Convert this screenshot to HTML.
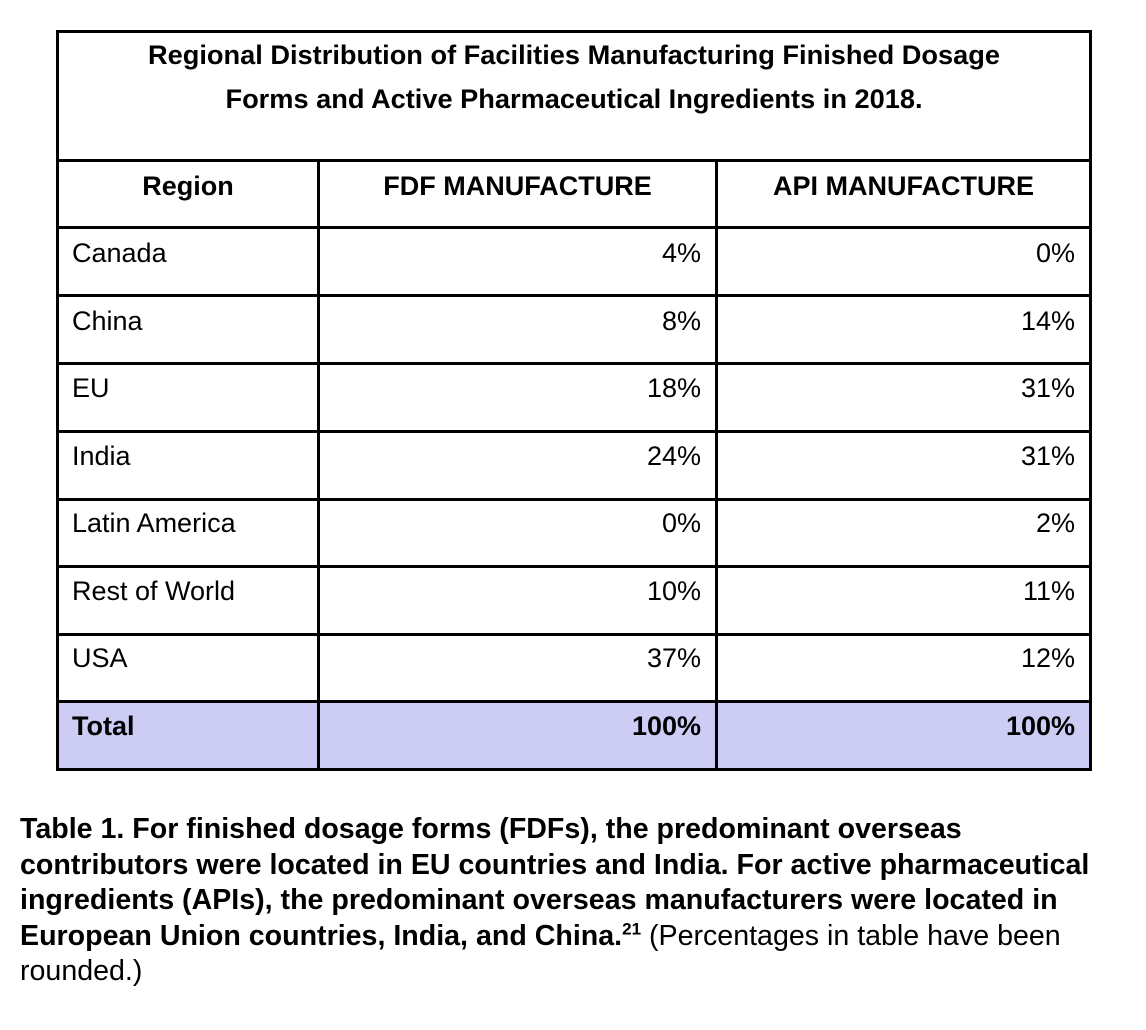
<!DOCTYPE html><html><head><style>
body{margin:0;width:1146px;height:1030px;background:#fff;font-family:"Liberation Sans",sans-serif;color:#000;position:relative;overflow:hidden}
.h{position:absolute;background:#000;height:3px}
.v{position:absolute;background:#000;width:3px}
.t{position:absolute;font-size:27px;white-space:nowrap;line-height:30px}
.b{font-weight:bold}
.r{text-align:right}
</style></head><body>
<div style="position:absolute;left:59px;top:703px;width:1030px;height:65px;background:#ccccf5"></div>
<div class="h" style="left:56px;top:30px;width:1036px"></div>
<div class="h" style="left:56px;top:159px;width:1036px"></div>
<div class="h" style="left:56px;top:226px;width:1036px"></div>
<div class="h" style="left:56px;top:294px;width:1036px"></div>
<div class="h" style="left:56px;top:362px;width:1036px"></div>
<div class="h" style="left:56px;top:430px;width:1036px"></div>
<div class="h" style="left:56px;top:498px;width:1036px"></div>
<div class="h" style="left:56px;top:565px;width:1036px"></div>
<div class="h" style="left:56px;top:633px;width:1036px"></div>
<div class="h" style="left:56px;top:700px;width:1036px"></div>
<div class="h" style="left:56px;top:768px;width:1036px"></div>
<div class="v" style="left:56px;top:30px;height:741px"></div>
<div class="v" style="left:1089px;top:30px;height:741px"></div>
<div class="v" style="left:317px;top:159px;height:612px"></div>
<div class="v" style="left:715px;top:159px;height:612px"></div>
<div class="t b" style="left:59px;width:1030px;top:33px;text-align:center;line-height:44px;font-size:27.2px">Regional Distribution of Facilities Manufacturing Finished Dosage<br>Forms and Active Pharmaceutical Ingredients in 2018.</div>
<div class="t b" style="left:59px;width:258px;top:171px;text-align:center">Region</div>
<div class="t b" style="left:320px;width:395px;top:171px;text-align:center">FDF MANUFACTURE</div>
<div class="t b" style="left:718px;width:371px;top:171px;text-align:center">API MANUFACTURE</div>
<div class="t" style="left:72px;top:238px">Canada</div><div class="t r" style="left:320px;width:381px;top:238px">4%</div><div class="t r" style="left:718px;width:357px;top:238px">0%</div>
<div class="t" style="left:72px;top:306px">China</div><div class="t r" style="left:320px;width:381px;top:306px">8%</div><div class="t r" style="left:718px;width:357px;top:306px">14%</div>
<div class="t" style="left:72px;top:373px">EU</div><div class="t r" style="left:320px;width:381px;top:373px">18%</div><div class="t r" style="left:718px;width:357px;top:373px">31%</div>
<div class="t" style="left:72px;top:441px">India</div><div class="t r" style="left:320px;width:381px;top:441px">24%</div><div class="t r" style="left:718px;width:357px;top:441px">31%</div>
<div class="t" style="left:72px;top:508px">Latin America</div><div class="t r" style="left:320px;width:381px;top:508px">0%</div><div class="t r" style="left:718px;width:357px;top:508px">2%</div>
<div class="t" style="left:72px;top:576px">Rest of World</div><div class="t r" style="left:320px;width:381px;top:576px">10%</div><div class="t r" style="left:718px;width:357px;top:576px">11%</div>
<div class="t" style="left:72px;top:643px">USA</div><div class="t r" style="left:320px;width:381px;top:643px">37%</div><div class="t r" style="left:718px;width:357px;top:643px">12%</div>
<div class="t b" style="left:72px;top:711px">Total</div><div class="t b r" style="left:320px;width:381px;top:711px">100%</div><div class="t b r" style="left:718px;width:357px;top:711px">100%</div>
<div style="position:absolute;left:20px;top:812px;width:1120px;font-size:28.6px;line-height:35.5px;white-space:nowrap"><b>Table 1. For finished dosage forms (FDFs), the predominant overseas<br>contributors were located in EU countries and India. For active pharmaceutical<br>ingredients (APIs), the predominant overseas manufacturers were located in<br>European Union countries, India, and China.<sup style="font-size:17px;line-height:0">21</sup></b> (Percentages in table have been<br>rounded.)</div>
</body></html>
